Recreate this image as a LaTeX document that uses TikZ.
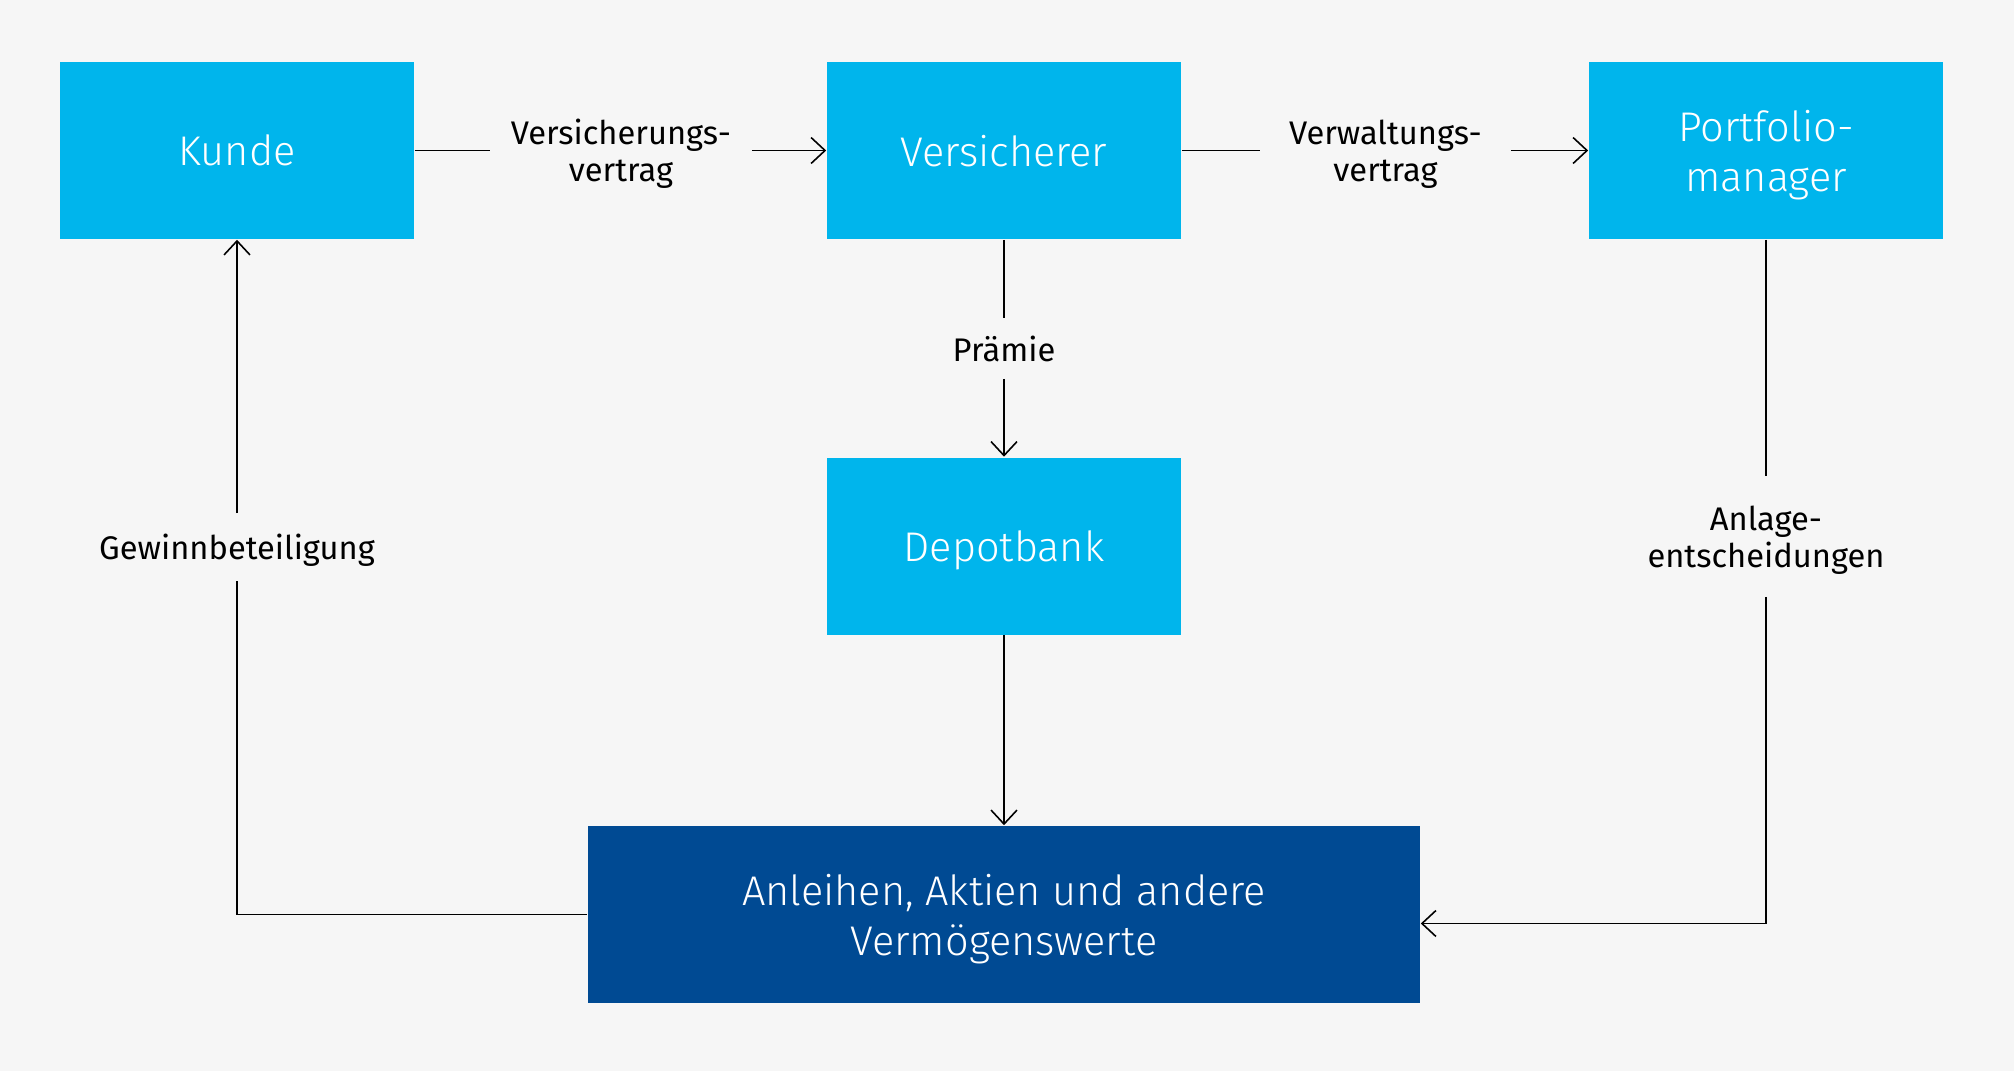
\documentclass[tikz,border=0pt]{standalone}
\usepackage{fontspec}
\setmainfont{Fira Sans}
\newfontfamily\lightfont{Fira Sans Light}
\usetikzlibrary{arrows.meta}
\definecolor{hellblau}{RGB}{0,181,236}
\definecolor{dunkelblau}{RGB}{0,74,147}
\definecolor{grund}{RGB}{246,246,246}

\begin{document}
\begin{tikzpicture}[
    box/.style={fill=hellblau, text=white, minimum width=3.54cm, minimum height=1.77cm, inner sep=0pt, text depth=0pt, align=center, font=\lightfont\fontsize{11.8}{14.2}\selectfont},
    lbl/.style={inner sep=0pt, text depth=0pt, align=center, font=\fontsize{9.3}{10.6}\selectfont},
    pfeil/.style={-{Straight Barb[length=1.4mm,width=2.6mm]}},
    line width=0.45pt]
      \fill[grund] (0,0) rectangle (20.14,-10.71);

      \node[box] (kunde) at (2.37,-1.505) {Kunde};
      \node[box] (versicherer) at (10.04,-1.505) {Versicherer};
      \node[box] (portfolio) at (17.66,-1.505) {Portfolio-\\manager};
      \node[box] (depot) at (10.04,-5.46) {Depotbank};
      \node[box, fill=dunkelblau, minimum width=8.32cm] (werte) at (10.04,-9.145) {Anleihen, Aktien und andere\\Vermögenswerte};

      \node[lbl, minimum width=2.6cm] (vvertrag) at (6.21,-1.505) {Versicherungs-\\vertrag};
      \node[lbl, minimum width=2.49cm] (wvertrag) at (13.855,-1.505) {Verwaltungs-\\vertrag};
      \node[lbl, minimum height=0.59cm] (praemie) at (10.04,-3.485) {Prämie};
      \node[lbl, minimum height=0.66cm] (gewinn) at (2.37,-5.47) {Gewinnbeteiligung};
      \node[lbl, minimum height=1.19cm] (anlage) at (17.66,-5.365) {Anlage-\\entscheidungen};

      \draw (kunde.east) -- (vvertrag.west);
      \draw[pfeil] (vvertrag.east) -- (versicherer.west);
      \draw (versicherer.east) -- (wvertrag.west);
      \draw[pfeil] (wvertrag.east) -- (portfolio.west);
      \draw (versicherer.south) -- (praemie.north);
      \draw[pfeil] (praemie.south) -- (depot.north);
      \draw[pfeil] (depot.south) -- (werte.north);
      \draw (portfolio.south) -- (anlage.north);
      \draw[pfeil] (anlage.south) |- ([yshift=-0.09cm]werte.east);
      \draw (werte.west) -| (gewinn.south);
      \draw[pfeil] (gewinn.north) -- (kunde.south);
    \end{tikzpicture}
\end{document}
